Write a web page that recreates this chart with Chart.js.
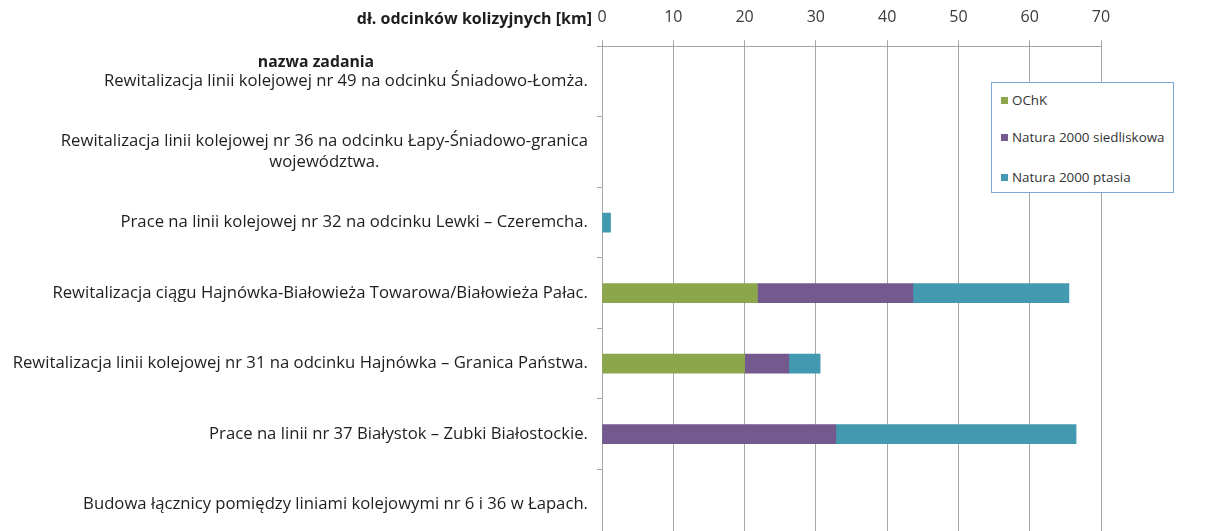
<!DOCTYPE html>
<html>
<head>
<meta charset="utf-8">
<script src="https://cdn.jsdelivr.net/npm/chart.js@4.4.1/dist/chart.umd.min.js"></script>
<style>
  html, body { margin: 0; padding: 0; background: #fff; overflow: hidden; }
  #wrap { position: relative; width: 1208px; height: 541px; }
  #legend {
    position: absolute; left: 991px; top: 82px; width: 181px; height: 109px;
    border: 1px solid #7ea6d6; background: #fff;
    font: 13.4px "Open Sans", sans-serif; color: #333;
  }
  #legend div { position: absolute; left: 9px; white-space: nowrap; }
  #legend span { display: inline-block; width: 7px; height: 7px; margin-right: 4px; vertical-align: 1px; }
</style>
</head>
<body>
<div id="wrap">
  <canvas id="chart"></canvas>
  <div id="legend"></div>
</div>
<script>
const categories = [
  "Rewitalizacja linii kolejowej nr 49 na odcinku Śniadowo-Łomża.",
  ["Rewitalizacja linii kolejowej nr 36 na odcinku Łapy-Śniadowo-granica", "województwa."],
  "Prace na linii kolejowej nr 32 na odcinku Lewki – Czeremcha.",
  "Rewitalizacja ciągu Hajnówka-Białowieża Towarowa/Białowieża Pałac.",
  "Rewitalizacja linii kolejowej nr 31 na odcinku Hajnówka – Granica Państwa.",
  "Prace na linii nr 37 Białystok – Zubki Białostockie.",
  "Budowa łącznicy pomiędzy liniami kolejowymi nr 6 i 36 w Łapach."
];
const seriesNames = ["OChK", "Natura 2000 siedliskowa", "Natura 2000 ptasia"];
const ochk = [null, null, null, 21.8, 20.0, null, null];
const siedliskowa = [null, null, null, 21.8, 6.2, 32.8, null];
const ptasia = [null, null, 1.2, 21.9, 4.4, 33.7, null];
const xTicks = [0, 10, 20, 30, 40, 50, 60, 70];
const xTitle = "dł. odcinków kolizyjnych [km]";
const yTitle = "nazwa zadania";

const colors = ["#8ba64b", "#73598e", "#4399b0"];
const textColor = "#1e1e1e";
const gridColor = "#a6a6a6";
const font = '"Open Sans", sans-serif';

const labelsPlugin = {
  id: "rowLabels",
  afterDraw(chart) {
    const ctx = chart.ctx;
    const y = chart.scales.y;
    ctx.save();
    ctx.fillStyle = textColor;
    ctx.textBaseline = "middle";
    ctx.font = "16.7px " + font;
    const right = y.left - 9;
    categories.forEach((label, i) => {
      const lines = [].concat(label);
      const cy = y.getPixelForTick(i);
      const w = Math.max(...lines.map(l => ctx.measureText(l).width));
      ctx.textAlign = "center";
      lines.forEach((l, j) => {
        ctx.fillText(l, right - w / 2, cy + (j - (lines.length - 1) / 2) * 21);
      });
    });
    ctx.font = "bold 16px " + font;
    ctx.textAlign = "right";
    ctx.fillText(xTitle, right + 4, 19);
    ctx.textAlign = "center";
    ctx.font = "bold 15.8px " + font;
    ctx.fillText(yTitle, 316, 62);
    ctx.restore();
  }
};

const data = {
  labels: categories,
  datasets: [ochk, siedliskowa, ptasia].map((values, i) => ({
    label: seriesNames[i],
    data: values,
    backgroundColor: colors[i],
    borderWidth: 0,
    barThickness: 19
  }))
};

const config = {
  type: "bar",
  data: data,
  options: {
    indexAxis: "y",
    responsive: true,
    maintainAspectRatio: false,
    animation: false,
    layout: {
      padding: {left: 597, right: 107, top: -5, bottom: 1}
    },
    plugins: {
      legend: {display: false},
      tooltip: {enabled: false}
    },
    scales: {
      x: {
        position: "top",
        stacked: true,
        min: 0,
        max: 70,
        afterBuildTicks: (scale) => {
          scale.ticks = xTicks.map(v => ({value: v}));
        },
        border: {color: gridColor, width: 1},
        grid: {color: gridColor, tickLength: 6, lineWidth: 1},
        ticks: {
          color: "#3a3a3a",
          padding: 13,
          font: {family: font, size: 16}
        }
      },
      y: {
        stacked: true,
        border: {color: gridColor, width: 1},
        grid: {color: gridColor, drawOnChartArea: false, tickLength: 5, offset: true},
        ticks: {display: false}
      }
    }
  },
  plugins: [labelsPlugin]
};

new Chart(document.getElementById("chart"), config);

const legend = document.getElementById("legend");
const legendTops = [8, 45, 85];
seriesNames.forEach((name, i) => {
  const item = document.createElement("div");
  item.style.top = legendTops[i] + "px";
  item.innerHTML = '<span style="background:' + colors[i] + '"></span>' + name;
  legend.appendChild(item);
});
</script>
</body>
</html>
